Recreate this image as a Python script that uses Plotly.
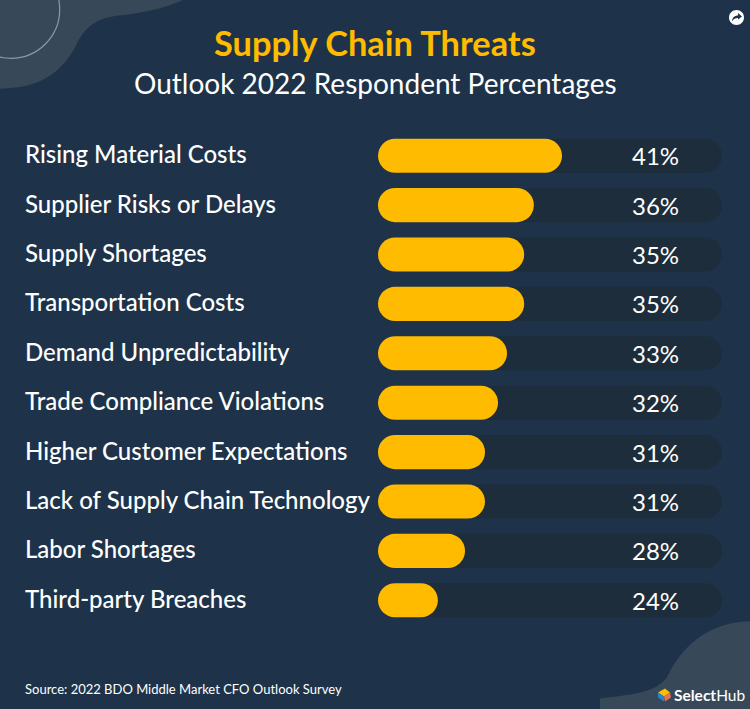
import plotly.graph_objects as go

W, H = 750, 709
categories = ["Rising Material Costs", "Supplier Risks or Delays", "Supply Shortages",
              "Transportation Costs", "Demand Unpredictability", "Trade Compliance Violations",
              "Higher Customer Expectations", "Lack of Supply Chain Technology",
              "Labor Shortages", "Third-party Breaches"]
percent_labels = [41, 36, 35, 35, 33, 32, 31, 31, 28, 24]
# drawn bar length, as a share of the full track
bar_fill = [53.5, 45.3, 42.5, 42.5, 37.5, 34.9, 31.1, 31.1, 25.3, 17.4]
track = [100] * len(categories)

BG, TRACK, GOLD, BLOB = "#1e3349", "#1d2d3b", "#ffbb00", "#374859"
FONT = "Lato"
L, R, T, B = 378, 722, 131.3, 624.7
PW, PH = R - L, B - T


def fx(x):
    return (x - L) / PW


def fy(y):
    return (B - y) / PH


def path2(cmds):
    out = []
    for c in cmds:
        if c == "Z":
            out.append("Z")
        else:
            pts = " ".join(f"{fx(c[i]):.5f},{fy(c[i + 1]):.5f}" for i in range(1, len(c), 2))
            out.append(c[0] + pts)
    return " ".join(out)


def sh(cmds, fill, layer="below", line=None):
    return dict(type="path", xref="paper", yref="paper", path=path2(cmds), fillcolor=fill,
                line=dict(width=0 if line is None else 1.2, color=line or fill), layer=layer)


fig = go.Figure()


def pill(values, color, xa, ya):
    # an explicit base makes plotly round both ends of the bar
    fig.add_bar(y=categories, x=values, base=[0] * len(values), orientation="h",
                marker=dict(color=color, line_width=0, cornerradius=17),
                width=0.69, hoverinfo="skip", xaxis=xa, yaxis=ya)


pill(track, TRACK, "x", "y")
pill(bar_fill, GOLD, "x2", "y2")

blob_tl = [("M", 0, 0), ("L", 184, 0), ("C", 165, 9, 140, 14, 118, 16),
           ("C", 95, 19, 85, 28, 77, 44), ("C", 65, 68, 45, 89, 0, 89), "Z"]
blob_br = [("M", 750, 621), ("C", 705, 622, 680, 650, 668, 675),
           ("C", 660, 690, 640, 694, 600, 698), ("L", 600, 709), ("L", 750, 709), "Z"]
k = 26.8
cx, cy, r = 11, 10, 48.7
ring = [("M", cx + r, cy), ("C", cx + r, cy + k, cx + k, cy + r, cx, cy + r),
        ("C", cx - k, cy + r, cx - r, cy + k, cx - r, cy),
        ("C", cx - r, cy - k, cx - k, cy - r, cx, cy - r),
        ("C", cx + k, cy - r, cx + r, cy - k, cx + r, cy), "Z"]
ix, iy, ir = 736.5, 18, 7.5
ik = ir * 0.55
icon = [("M", ix + ir, iy), ("C", ix + ir, iy + ik, ix + ik, iy + ir, ix, iy + ir),
        ("C", ix - ik, iy + ir, ix - ir, iy + ik, ix - ir, iy),
        ("C", ix - ir, iy - ik, ix - ik, iy - ir, ix, iy - ir),
        ("C", ix + ik, iy - ir, ix + ir, iy - ik, ix + ir, iy), "Z"]
arrow = [("M", 732, 22), ("C", 732, 18, 735, 16, 738, 16), ("L", 738, 13.5), ("L", 742, 17),
         ("L", 738, 20), ("L", 738, 18.5), ("C", 735, 18.5, 733, 20, 732, 22), "Z"]
shapes = [
    sh(blob_tl, BLOB), sh(blob_br, BLOB),
    sh(ring, "rgba(0,0,0,0)", line="#8e99a3"),
    sh(icon, "#ffffff"), sh(arrow, BG, layer="above"),
    sh([("M", 658, 692), ("L", 665, 688), ("L", 670, 692), ("L", 664, 696), "Z"], "#ffbb00", "above"),
    sh([("M", 658, 692), ("L", 664, 696), ("L", 664, 701), ("L", 658, 697), "Z"], "#1e88d8", "above"),
    sh([("M", 664, 696), ("L", 670, 692), ("L", 671, 697), ("L", 665, 701), "Z"], "#e8704f", "above"),
]

ann = []
for c, p in zip(categories, percent_labels):
    ann.append(dict(x=fx(25), xref="paper", y=c, yref="y", text=c, showarrow=False, xanchor="left",
                    yshift=2, borderpad=0, borderwidth=0,
                    font=dict(family=FONT, size=24, color="#ffffff", weight=500)))
    ann.append(dict(x=fx(655), xref="paper", y=c, yref="y", text=f"{p}%", showarrow=False,
                    xanchor="center", font=dict(family=FONT, size=24, color="#ffffff", weight=400)))


def text(x, y, s, size, color="#ffffff", anchor="center", weight=None):
    f = dict(family=FONT, size=size, color=color)
    if weight:
        f["weight"] = weight
    ann.append(dict(x=fx(x), y=fy(y), xref="paper", yref="paper", text=s, showarrow=False,
                    xanchor=anchor, yanchor="middle", borderpad=0, font=f))


text(375, 43, "Supply Chain Threats", 34.4, GOLD, weight=700)
text(375, 83, "Outlook 2022 Respondent Percentages", 28)
text(24, 689, "Source: 2022 BDO Middle Market CFO Outlook Survey", 13, anchor="left")
text(673, 695, "<b>Select</b>Hub", 15.5, anchor="left")

fig.update_layout(
    width=W, height=H, autosize=False, barmode="overlay", showlegend=False,
    margin=dict(l=L, r=W - R, t=T, b=H - B), paper_bgcolor=BG, plot_bgcolor="rgba(0,0,0,0)",
    xaxis=dict(range=[0, 100], visible=False, fixedrange=True),
    yaxis=dict(autorange="reversed", visible=False, fixedrange=True),
    xaxis2=dict(range=[0, 100], visible=False, fixedrange=True, overlaying="x"),
    yaxis2=dict(autorange="reversed", visible=False, fixedrange=True, overlaying="y"),
    shapes=shapes, annotations=ann,
)
fig.write_html("out.html", config={"displayModeBar": False},
               post_script="document.body.style.margin='0';document.body.style.background='#1e3349';")
